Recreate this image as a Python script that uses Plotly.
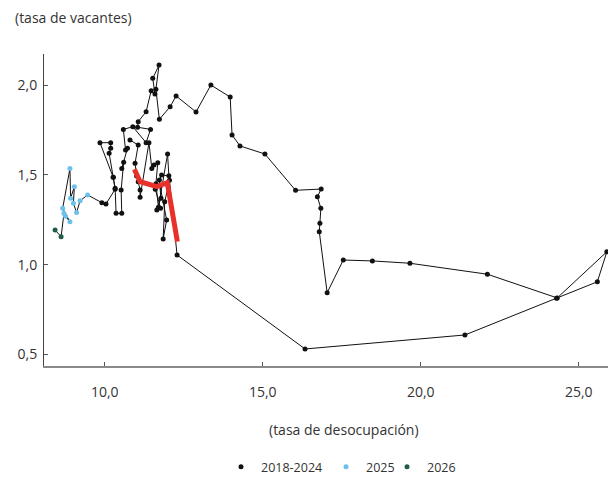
import plotly.graph_objects as go

# 2018-2024 (monthly, chronological)
black_x = [10.80, 11.06, 10.96, 11.01, 11.06, 11.12, 11.12, 11.40, 11.49, 11.56,
           11.68, 11.62, 11.70, 11.99, 12.03, 11.80, 11.73, 11.78, 11.65, 11.77,
           11.60, 11.75, 11.96, 11.85, 11.90, 12.05, 12.29,
           16.34, 21.40, 24.30, 25.59, 25.89, 24.32, 22.11, 19.66, 18.47, 17.55,
           17.04, 16.79, 16.81, 16.84, 16.73, 16.85, 16.04, 15.07, 14.28, 14.03,
           13.97, 13.36, 12.89, 12.26, 12.07, 11.73, 11.62, 11.72, 11.52, 11.59,
           11.47, 11.31, 11.06, 11.04, 11.45, 11.31, 10.89, 10.59, 10.66, 10.72,
           10.54, 10.60, 10.52, 10.54, 10.36, 10.33, 10.27, 10.14, 10.19, 10.19,
           9.85, 10.27, 10.33, 10.04, 9.91]
black_y = [1.694, 1.666, 1.564, 1.494, 1.462, 1.416, 1.375, 1.679, 1.536, 1.555,
           1.568, 1.450, 1.320, 1.616, 1.495, 1.499, 1.471, 1.370, 1.304, 1.314,
           1.420, 1.440, 1.249, 1.143, 1.350, 1.470, 1.054,
           0.531, 0.609, 0.813, 0.905, 1.072, 0.815, 0.947, 1.008, 1.021, 1.026,
           0.844, 1.184, 1.230, 1.314, 1.378, 1.421, 1.414, 1.616, 1.661, 1.722,
           1.933, 2.000, 1.850, 1.939, 1.879, 1.809, 1.976, 2.111, 2.037, 1.950,
           1.968, 1.851, 1.796, 1.765, 1.753, 1.679, 1.768, 1.753, 1.638, 1.648,
           1.536, 1.570, 1.416, 1.286, 1.286, 1.425, 1.486, 1.620, 1.648, 1.679,
           1.679, 1.486, 1.420, 1.338, 1.345]

# 2025
blue_x = [9.46, 9.22, 9.11, 9.01, 9.04, 8.92, 8.90, 8.67, 8.90, 8.76, 8.71]
blue_y = [1.388, 1.356, 1.290, 1.342, 1.434, 1.370, 1.536, 1.314, 1.239, 1.270, 1.286]

# 2026
green_x = [8.62, 8.43]
green_y = [1.156, 1.193]

# red segment
red_x = [10.94, 11.12, 11.65, 11.98, 12.30]
red_y = [1.531, 1.462, 1.434, 1.456, 1.128]

all_x = black_x + blue_x + green_x
all_y = black_y + blue_y + green_y

FONT = "Open Sans"
TXT = "#333333"

fig = go.Figure()
fig.add_trace(go.Scatter(x=all_x, y=all_y, mode="lines",
                         line=dict(color="#111111", width=1),
                         showlegend=False, hoverinfo="skip"))
fig.add_trace(go.Scatter(x=black_x, y=black_y, mode="markers", name="2018-2024",
                         marker=dict(color="#111111", size=5), legend="legend"))
fig.add_trace(go.Scatter(x=blue_x, y=blue_y, mode="markers", name="2025",
                         marker=dict(color="#6cc0ea", size=5), legend="legend2"))
fig.add_trace(go.Scatter(x=green_x, y=green_y, mode="markers", name="2026",
                         marker=dict(color="#1f5c4c", size=5), legend="legend3"))
fig.add_trace(go.Scatter(x=red_x, y=red_y, mode="lines",
                         line=dict(color="#e8312b", width=5),
                         showlegend=False))

W, H = 608, 479
LEG_Y = 1 - 467 / H


def leg(left_px):
    return dict(orientation="h", xref="container", yref="container",
                x=left_px / W, xanchor="left", y=LEG_Y, yanchor="middle",
                font=dict(size=12.5, color=TXT), itemwidth=30,
                bgcolor="rgba(0,0,0,0)")


fig.update_layout(
    width=W, height=H,
    margin=dict(l=44, r=0, t=54, b=113, autoexpand=False),
    paper_bgcolor="white", plot_bgcolor="white",
    separators=",.",
    font=dict(family=FONT, size=14, color=TXT),
    xaxis=dict(range=[8.079, 25.927], tickvals=[10, 15, 20, 25], tickformat=".1f",
               showgrid=False, zeroline=False, showline=True, linecolor="#8a8a8a",
               linewidth=2, ticks="inside", ticklen=4, tickcolor="#555555",
               ticklabelstandoff=12,
               automargin=False, tickfont=dict(size=14, color=TXT)),
    yaxis=dict(range=[0.4363, 2.1725], tickvals=[0.5, 1.0, 1.5, 2.0], tickformat=".1f",
               showgrid=False, zeroline=False, showline=True, linecolor="#444444",
               linewidth=1, ticks="inside", ticklen=4, tickcolor="#555555",
               ticklabelstandoff=3,
               automargin=False, tickfont=dict(size=14, color=TXT)),
    legend=leg(221),
    legend2=leg(326),
    legend3=leg(387),
    annotations=[
        dict(text="(tasa de vacantes)", xref="paper", yref="paper", x=-0.0555, y=1.1154,
             xanchor="left", yanchor="middle", showarrow=False,
             font=dict(size=14, color=TXT)),
        dict(text="(tasa de desocupación)", xref="paper", yref="paper", x=0.532, y=-0.205,
             xanchor="center", yanchor="middle", showarrow=False,
             font=dict(size=14, color=TXT)),
    ],
)

fig.write_html("out.html", config={"displayModeBar": False},
               post_script="document.body.style.margin='0';")
